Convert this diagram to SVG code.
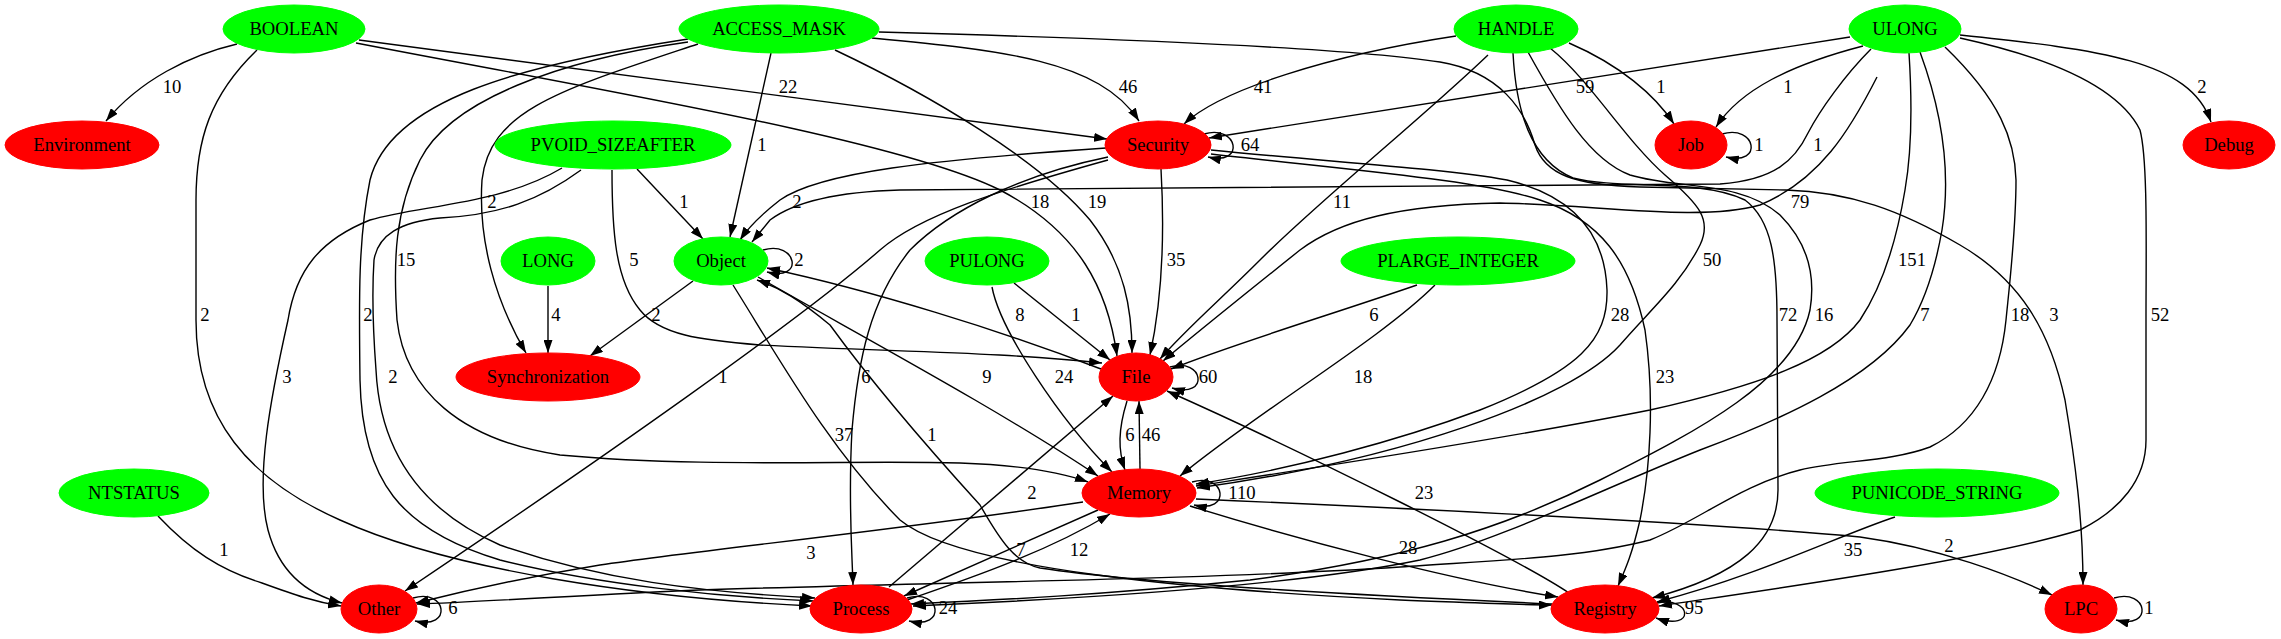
<svg xmlns="http://www.w3.org/2000/svg" width="2281" height="639" viewBox="0 0 2281 639">
<defs>
<style>
text{font-family:"Liberation Serif","Times New Roman",serif;font-size:18.67px;text-anchor:middle;fill:#000}
.g{fill:#00ff00;stroke:#00ff00}
.r{fill:#ff0000;stroke:#ff0000}
.e path{fill:none;stroke:#000;stroke-width:1.4;marker-end:url(#ah)}
</style>
<marker id="ah" markerUnits="userSpaceOnUse" viewBox="0 0 13 9" refX="13" refY="4.5" markerWidth="13" markerHeight="9" orient="auto"><path d="M0,0 L13,4.5 L0,9 z" fill="#000"/></marker>
</defs>
<rect width="2281" height="639" fill="#fff"/>
<g id="connectors">
<g class="e"><path d="M237,44 C190,55 140,80 106,121"/><text x="172" y="93">10</text></g>
<g class="e"><path d="M359,40 L1107,139"/><text x="788" y="93">22</text></g>
<g class="e"><path d="M356,43 C600,90 900,140 1000,190 C1080,232 1108,290 1117,356"/><text x="1040" y="208">18</text></g>
<g class="e"><path d="M257,50 C210,95 196,140 196,200 L196,320 C196,420 250,480 340,520 C450,570 640,598 812,606"/><text x="205" y="321">2</text></g>
<g class="e"><path d="M771,53 L730,237"/><text x="762" y="151">1</text></g>
<g class="e"><path d="M872,38 C1000,50 1100,60 1139,121"/><text x="1128" y="93">46</text></g>
<g class="e"><path d="M835,50 C930,95 1040,160 1090,220 C1125,265 1132,310 1132,353"/><text x="1097" y="208">19</text></g>
<g class="e"><path d="M688,39 C520,65 390,100 370,180 C358,240 359,300 360,380 C362,480 400,530 500,560 C600,585 720,597 813,601"/><text x="368" y="321">2</text></g>
<g class="e"><path d="M688,42 C560,60 450,100 420,160 C395,210 393,260 397,320 C405,390 460,440 560,455 C700,468 850,460 960,463 C1020,465 1060,472 1088,482"/><text x="406" y="266">15</text></g>
<g class="e"><path d="M698,44 C560,90 490,110 482,180 C478,240 495,300 526,353"/><text x="492" y="208">2</text></g>
<g class="e"><path d="M879,32 C1100,38 1350,48 1440,62 C1500,72 1525,110 1535,145 C1545,175 1575,185 1640,187 L1786,190 C1850,192 1900,210 1960,245 C2020,280 2050,330 2065,400 C2075,460 2083,520 2083,585"/><text x="2054" y="321">3</text></g>
<g class="e"><path d="M1456,36 C1330,55 1220,90 1184,124"/><text x="1263" y="93">41</text></g>
<g class="e"><path d="M1569,43 C1620,65 1655,95 1674,124"/><text x="1661" y="93">1</text></g>
<g class="e"><path d="M1488,55 C1420,120 1320,200 1260,260 C1220,300 1185,330 1160,359"/><text x="1342" y="208">11</text></g>
<g class="e"><path d="M1550,48 C1590,80 1625,140 1665,175 C1700,205 1712,220 1700,245 C1680,285 1650,310 1620,345 C1570,400 1400,460 1197,488"/><text x="1712" y="266">50</text></g>
<g class="e"><path d="M1513,53 C1516,110 1530,160 1573,178 C1620,190 1700,178 1745,200 C1772,220 1777,260 1777,320 L1778,490 C1778,540 1740,575 1652,598"/><text x="1788" y="321">72</text></g>
<g class="e"><path d="M1528,52 C1560,110 1590,160 1630,175 C1680,190 1740,180 1780,215 C1810,245 1815,280 1810,310 C1795,380 1700,430 1600,480 C1500,530 1400,560 1250,580 C1100,595 1000,600 911,604"/><text x="1824" y="321">16</text></g>
<g class="e"><path d="M1850,37 L1209,138"/><text x="1585" y="93">59</text></g>
<g class="e"><path d="M1863,46 C1790,65 1740,90 1716,127"/><text x="1788" y="93">1</text></g>
<g class="e"><path d="M1960,35 C2100,50 2190,60 2211,122"/><text x="2202" y="93">2</text></g>
<g class="e"><path d="M1871,49 C1845,75 1820,110 1808,133 C1795,160 1775,180 1720,184 L900,190 C830,192 790,205 770,220 L752,242"/><text x="1818" y="151">1</text></g>
<g class="e"><path d="M1877,77 C1850,130 1820,180 1760,205 C1700,222 1600,205 1500,203 C1400,205 1340,220 1300,250 C1250,290 1200,330 1163,361"/><text x="1800" y="208">79</text></g>
<g class="e"><path d="M1909,53 C1912,100 1912,150 1905,190 C1895,250 1880,290 1860,320 C1830,360 1760,385 1650,410 C1500,440 1300,470 1196,486"/><text x="1912" y="266">151</text></g>
<g class="e"><path d="M1920,52 C1945,120 1950,180 1942,230 C1935,270 1925,300 1910,325 C1870,380 1780,420 1700,450 C1600,490 1500,540 1420,560 C1300,585 1100,598 913,606"/><text x="1925" y="321">7</text></g>
<g class="e"><path d="M1945,47 C2000,100 2015,140 2016,180 C2016,230 2010,280 2006,320 C2000,380 1975,425 1930,447 C1890,462 1840,460 1800,470 C1740,485 1700,520 1650,540 C1580,558 1500,560 1400,567 C1200,580 900,583 700,590 C600,594 480,602 417,604"/><text x="2020" y="321">18</text></g>
<g class="e"><path d="M1960,38 C2060,60 2120,90 2140,130 C2148,160 2146,250 2146,320 L2146,440 C2146,480 2120,510 2080,530 C1980,560 1800,585 1659,606"/><text x="2160" y="321">52</text></g>
<g class="e"><path d="M637,169 L703,239"/><text x="684" y="208">1</text></g>
<g class="e"><path d="M612,170 C612,230 615,280 640,310 C660,335 700,340 760,345 C900,352 1000,352 1102,363"/><text x="634" y="266">5</text></g>
<g class="e"><path d="M562,168 C500,205 420,205 370,220 C320,240 296,270 288,320 C270,400 255,480 268,530 C280,575 310,595 342,603"/><text x="287" y="383">3</text></g>
<g class="e"><path d="M581,170 C540,200 500,215 440,218 C400,222 378,235 374,260 C372,290 373,330 376,370 C380,450 420,510 500,545 C600,580 700,592 815,598"/><text x="393" y="383">2</text></g>
<g class="e"><path d="M1106,148 C930,160 820,172 780,200 C762,214 748,228 740,240"/><text x="797" y="208">2</text></g>
<g class="e"><path d="M1161,169 C1165,240 1162,300 1150,355"/><text x="1176" y="266">35</text></g>
<g class="e"><path d="M1211,150 C1330,162 1440,168 1507,180 C1570,195 1605,230 1607,290 C1608,340 1580,370 1480,410 C1400,440 1290,470 1196,484"/><text x="1620" y="321">28</text></g>
<g class="e"><path d="M1211,154 C1350,170 1480,180 1540,200 C1600,220 1630,260 1645,330 C1655,400 1650,470 1640,520 C1632,555 1625,570 1618,586"/><text x="1665" y="383">23</text></g>
<g class="e"><path d="M1108,157 C1020,175 950,210 910,250 C870,300 858,360 852,430 C848,500 852,550 853,585"/><text x="866" y="383">6</text></g>
<g class="e"><path d="M1108,160 C1000,190 920,215 880,250 C800,320 600,460 405,591"/><text x="723" y="383">1</text></g>
<g class="e"><path d="M1204,134 C1238,124 1246,166 1208,157"/><text x="1250" y="151">64</text></g>
<g class="e"><path d="M1722,134 C1756,124 1764,166 1726,157"/><text x="1759" y="151">1</text></g>
<g class="e"><path d="M763,250 C797,240 805,282 767,272"/><text x="799" y="266">2</text></g>
<g class="e"><path d="M693,281 L590,356"/><text x="656" y="321">2</text></g>
<g class="e"><path d="M548,286 L548,353"/><text x="556" y="321">4</text></g>
<g class="e"><path d="M758,277 C850,330 1000,410 1098,476"/><text x="987" y="383">9</text></g>
<g class="e"><path d="M733,285 C780,360 830,450 900,520 C960,570 1200,590 1400,600 C1480,603 1520,605 1552,605"/><text x="844" y="441">37</text></g>
<g class="e"><path d="M1552,604 C1400,597 1150,585 1040,568 C1015,563 1000,540 980,505 C930,450 870,380 830,325 C800,300 780,288 757,280"/><text x="932" y="441">1</text></g>
<g class="e"><path d="M1101,369 C1000,330 870,290 767,268"/><text x="1020" y="321">8</text></g>
<g class="e"><path d="M1014,283 L1110,360"/><text x="1076" y="321">1</text></g>
<g class="e"><path d="M992,287 C1000,330 1060,420 1112,472"/><text x="1064" y="383">24</text></g>
<g class="e"><path d="M1417,285 C1330,315 1230,345 1171,369"/><text x="1374" y="321">6</text></g>
<g class="e"><path d="M1435,285 C1380,340 1260,410 1180,476"/><text x="1363" y="383">18</text></g>
<g class="e"><path d="M1170,367 C1204,357 1210,399 1172,388"/><text x="1208" y="383">60</text></g>
<g class="e"><path d="M1127,401 C1118,430 1118,450 1125,470"/><text x="1130" y="441">6</text></g>
<g class="e"><path d="M1140,469 L1139,401"/><text x="1151" y="441">46</text></g>
<g class="e"><path d="M1192,482 C1226,472 1232,514 1194,505"/><text x="1242" y="499">110</text></g>
<g class="e"><path d="M889,587 L1113,396"/><text x="1032" y="499">2</text></g>
<g class="e"><path d="M1098,510 L904,596"/><text x="1021" y="556">7</text></g>
<g class="e"><path d="M907,600 C980,575 1050,550 1110,514"/><text x="1079" y="556">12</text></g>
<g class="e"><path d="M1083,502 C900,530 700,550 600,565 C520,578 460,592 416,603"/><text x="811" y="559">3</text></g>
<g class="e"><path d="M1190,506 C1300,540 1450,580 1558,597"/><text x="1408" y="554">28</text></g>
<g class="e"><path d="M1196,499 C1400,508 1700,522 1860,537 C1940,548 2010,575 2052,595"/><text x="1949" y="552">2</text></g>
<g class="e"><path d="M907,598 C941,588 947,630 909,621"/><text x="948" y="614">24</text></g>
<g class="e"><path d="M158,516 C190,550 220,570 262,583 C295,595 315,602 341,606"/><text x="224" y="556">1</text></g>
<g class="e"><path d="M413,598 C447,588 453,630 415,621"/><text x="453" y="614">6</text></g>
<g class="e"><path d="M1895,517 C1840,535 1760,575 1657,602"/><text x="1853" y="556">35</text></g>
<g class="e"><path d="M1657,603 C1692,596 1696,632 1656,618"/><text x="1694" y="614">95</text></g>
<g class="e"><path d="M2114,598 C2148,588 2154,630 2116,620"/><text x="2149" y="614">1</text></g>
<g class="e"><path d="M1569,593 C1520,560 1300,450 1167,391"/><text x="1424" y="499">23</text></g>
</g>
<g id="nodes">
<g id="BOOLEAN"><ellipse class="g" cx="294" cy="29" rx="71" ry="24"/><text x="294" y="35">BOOLEAN</text></g>
<g id="ACCESS_MASK"><ellipse class="g" cx="779" cy="29" rx="100" ry="24"/><text x="779" y="35">ACCESS_MASK</text></g>
<g id="HANDLE"><ellipse class="g" cx="1516" cy="29" rx="62" ry="24"/><text x="1516" y="35">HANDLE</text></g>
<g id="ULONG"><ellipse class="g" cx="1905" cy="29" rx="56" ry="24"/><text x="1905" y="35">ULONG</text></g>
<g id="Environment"><ellipse class="r" cx="82" cy="145" rx="77" ry="24"/><text x="82" y="151">Environment</text></g>
<g id="PVOID_SIZEAFTER"><ellipse class="g" cx="613" cy="145" rx="118" ry="24"/><text x="613" y="151">PVOID_SIZEAFTER</text></g>
<g id="Security"><ellipse class="r" cx="1158" cy="145" rx="53" ry="24"/><text x="1158" y="151">Security</text></g>
<g id="Job"><ellipse class="r" cx="1691" cy="145" rx="36" ry="24"/><text x="1691" y="151">Job</text></g>
<g id="Debug"><ellipse class="r" cx="2229" cy="145" rx="46" ry="24"/><text x="2229" y="151">Debug</text></g>
<g id="LONG"><ellipse class="g" cx="548" cy="261" rx="47" ry="24"/><text x="548" y="267">LONG</text></g>
<g id="Object"><ellipse class="g" cx="721" cy="261" rx="47" ry="24"/><text x="721" y="267">Object</text></g>
<g id="PULONG"><ellipse class="g" cx="987" cy="261" rx="62" ry="24"/><text x="987" y="267">PULONG</text></g>
<g id="PLARGE_INTEGER"><ellipse class="g" cx="1458" cy="261" rx="117" ry="24"/><text x="1458" y="267">PLARGE_INTEGER</text></g>
<g id="Synchronization"><ellipse class="r" cx="548" cy="377" rx="92" ry="24"/><text x="548" y="383">Synchronization</text></g>
<g id="File"><ellipse class="r" cx="1136" cy="377" rx="37" ry="24"/><text x="1136" y="383">File</text></g>
<g id="NTSTATUS"><ellipse class="g" cx="134" cy="493" rx="75" ry="24"/><text x="134" y="499">NTSTATUS</text></g>
<g id="Memory"><ellipse class="r" cx="1139" cy="493" rx="57" ry="24"/><text x="1139" y="499">Memory</text></g>
<g id="PUNICODE_STRING"><ellipse class="g" cx="1937" cy="493" rx="122" ry="24"/><text x="1937" y="499">PUNICODE_STRING</text></g>
<g id="Other"><ellipse class="r" cx="379" cy="609" rx="38" ry="24"/><text x="379" y="615">Other</text></g>
<g id="Process"><ellipse class="r" cx="861" cy="609" rx="51" ry="24"/><text x="861" y="615">Process</text></g>
<g id="Registry"><ellipse class="r" cx="1605" cy="609" rx="54" ry="24"/><text x="1605" y="615">Registry</text></g>
<g id="LPC"><ellipse class="r" cx="2081" cy="609" rx="36" ry="24"/><text x="2081" y="615">LPC</text></g>
</g>
</svg>
